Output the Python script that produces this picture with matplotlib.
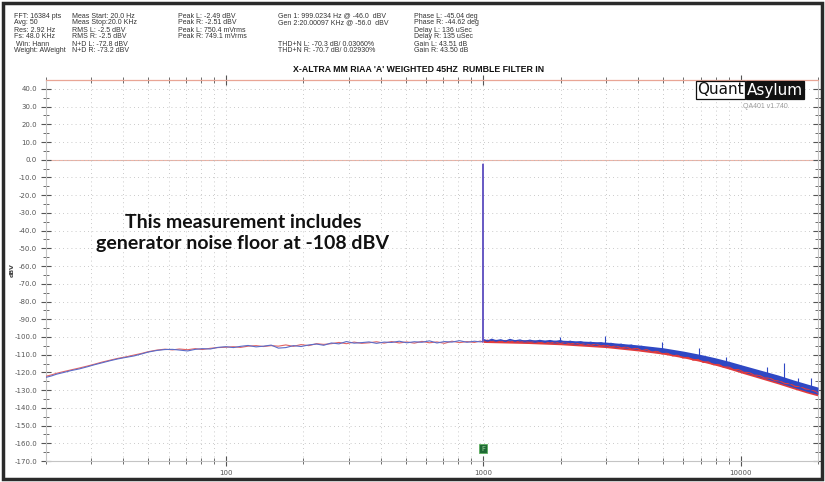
import matplotlib
matplotlib.use("Agg")
import matplotlib.pyplot as plt
from matplotlib.patches import Rectangle

# ---------------- data ----------------
f_lo = [20, 21, 22, 23.5, 25, 27, 29, 31, 33, 35.5, 38, 41, 44, 47, 50, 54, 58, 62, 66, 71,
        76, 81, 87, 93, 100, 107, 114, 122, 131, 140, 150, 160, 171, 183, 196, 210, 225, 240,
        257, 275, 294, 315, 337, 360, 385, 412, 441, 472, 505, 540, 578, 618, 661, 707, 756,
        809, 865, 925, 975, 995]
L_lo = [-122.8, -122.0, -121.0, -120.0, -119.0, -118.0, -116.8, -115.6, -114.6, -113.4,
        -112.4, -111.5, -110.7, -109.6, -108.5, -107.6, -107.1, -107.0, -107.4, -107.9,
        -107.0, -106.6, -106.8, -105.9, -105.5, -106.0, -105.3, -104.8, -105.6, -105.2,
        -104.6, -106.3, -106.0, -104.9, -105.4, -104.5, -104.0, -104.7, -103.4, -103.9,
        -102.6, -103.5, -103.2, -102.8, -103.6, -102.9, -103.1, -102.4, -103.3, -102.7,
        -103.0, -102.2, -103.4, -102.6, -102.9, -102.1, -103.0, -102.4, -102.8, -102.5]
R_lo = [-122.2, -121.4, -120.5, -119.5, -118.6, -117.5, -116.4, -115.3, -114.2, -113.1,
        -112.1, -111.2, -110.2, -109.3, -108.3, -107.4, -106.9, -107.3, -106.8, -107.2,
        -106.6, -107.1, -106.4, -106.0, -105.8, -105.5, -105.9, -105.2, -104.9, -105.4,
        -104.9, -105.2, -104.5, -105.3, -104.3, -104.9, -103.8, -104.2, -103.8, -103.1,
        -103.8, -102.9, -103.6, -103.3, -102.7, -103.5, -102.6, -103.4, -102.8, -103.5,
        -102.5, -103.3, -102.8, -103.6, -102.4, -103.2, -102.6, -103.1, -102.3, -102.9]

tone_f = [997, 999, 1001]
tone_L = [-102.5, -2.49, -101.7]
tone_R = [-102.9, -2.51, -101.9]

f_hi = [1005, 1040, 1080, 1120, 1170, 1220, 1270, 1330, 1390, 1450, 1520, 1590, 1660, 1740,
        1820, 1900, 1990, 2080, 2180, 2280, 2390, 2500, 2620, 2740, 2870, 3000, 3140, 3290,
        3440, 3600, 3770, 3950, 4130, 4330, 4530, 4740, 4960, 5190, 5440, 5690, 5960, 6240,
        6530, 6840, 7160, 7490, 7840, 8210, 8600, 9000, 9420, 9860, 10300, 10800, 11300,
        11800, 12400, 13000, 13600, 14200, 14900, 15600, 16300, 17100, 17900, 18700, 19600,
        20000]
L_hi = [-101.5, -102.3, -101.3, -102.1, -101.6, -102.4, -101.4, -102.2, -101.7, -102.5,
        -101.8, -102.6, -101.9, -102.7, -102.0, -102.9, -102.1, -103.0, -102.4, -103.3,
        -102.7, -103.6, -103.0, -103.9, -103.3, -104.3, -103.6, -104.7, -104.1, -105.2,
        -104.6, -105.9, -105.3, -106.6, -106.2, -107.5, -107.0, -108.5, -108.1, -109.6,
        -109.2, -110.8, -110.4, -112.0, -111.7, -113.3, -113.1, -114.8, -114.6, -116.3,
        -116.2, -117.9, -117.9, -119.6, -119.5, -121.1, -121.2, -122.8, -122.9, -124.5,
        -124.6, -126.2, -126.3, -127.9, -128.0, -129.5, -129.6, -130.8]
R_hi = [-102.4, -101.8, -102.7, -101.9, -102.8, -102.0, -102.9, -102.1, -103.0, -102.3,
        -103.1, -102.4, -103.3, -102.6, -103.5, -102.8, -103.7, -103.0, -104.0, -103.3,
        -104.3, -103.7, -104.7, -104.0, -105.1, -104.5, -105.6, -105.0, -106.2, -105.6,
        -106.9, -106.3, -107.7, -107.1, -108.6, -108.0, -109.6, -109.1, -110.7, -110.2,
        -111.9, -111.4, -113.1, -112.7, -114.4, -114.0, -115.7, -115.4, -117.1, -116.9,
        -118.5, -118.4, -120.0, -120.0, -121.6, -121.6, -123.2, -123.2, -124.7, -124.8,
        -126.3, -126.4, -127.9, -128.0, -129.4, -129.6, -130.8, -131.6]

band_f = [1000, 1500, 2000, 3000, 4000, 5000, 6000, 7000, 8000, 9000, 10000, 12000, 14000,
          16000, 18000, 20000]
band_hi = [-101.4, -101.6, -101.8, -102.9, -104.5, -106.1, -108.0, -109.9, -111.8, -113.7,
           -115.6, -118.8, -121.5, -124.2, -126.4, -128.3]
band_lo = [-102.2, -102.8, -103.5, -105.1, -107.0, -108.8, -110.9, -113.0, -115.1, -117.2,
           -119.3, -122.7, -125.6, -128.3, -130.6, -132.4]

spur_f = [1983, 2970, 4970, 6900, 8770, 12700, 14750, 16700, 18850]
spur_base = [-102.7, -104.0, -107.5, -111.3, -115.0, -121.7, -124.6, -127.2, -129.5]
spur_top = [-100.3, -99.5, -103.0, -106.5, -111.5, -117.0, -114.9, -123.0, -123.3]

y_ticks = list(range(-170, 41, 10))
x_ticks = [100, 1000, 10000]

header_cols = [
    (14, ["FFT: 16384 pts", "Avg: 50", "Res: 2.92 Hz", "Fs: 48.0 KHz", " Win: Hann", "Weight: AWeight"]),
    (72, ["Meas Start: 20.0 Hz", "Meas Stop:20.0 KHz", "RMS L: -2.5 dBV", "RMS R: -2.5 dBV",
          "N+D L: -72.8 dBV", "N+D R: -73.2 dBV"]),
    (178, ["Peak L: -2.49 dBV", "Peak R: -2.51 dBV", "Peak L: 750.4 mVrms", "Peak R: 749.1 mVrms", "", ""]),
    (278, ["Gen 1: 999.0234 Hz @ -46.0  dBV", "Gen 2:20.00097 KHz @ -56.0  dBV", "", "",
           "THD+N L: -70.3 dB/ 0.03060%", "THD+N R: -70.7 dB/ 0.02930%"]),
    (414, ["Phase L: -45.04 deg", "Phase R: -44.62 deg", "Delay L: 136 uSec", "Delay R: 135 uSec",
           "Gain L: 43.51 dB", "Gain R: 43.50 dB"]),
]
title = "X-ALTRA MM RIAA 'A' WEIGHTED 45HZ  RUMBLE FILTER IN"
note = "This measurement includes\ngenerator noise floor at -108 dBV"

# ---------------- figure ----------------
W, H = 825, 482
fig = plt.figure(figsize=(W / 100, H / 100), dpi=100)
fig.patch.set_facecolor("white")
ax = fig.add_axes([46 / W, 1 - 461 / H, (818 - 46) / W, (461 - 80) / H])
ax.set_xscale("log")
ax.set_xlim(20, 20000)
ax.set_ylim(-170, 45)

blue = "#2f48c4"
red = "#e33b3b"

ax.axhline(0, color="#eab3a6", lw=0.8, zorder=1)

ax.fill_between(band_f, [v - 0.9 for v in band_lo], [v - 0.5 for v in band_hi],
                color=red, lw=0, zorder=2)
ax.fill_between(band_f, band_lo, band_hi, color=blue, lw=0, zorder=3)

ax.plot(f_lo, R_lo, color="#e26464", lw=0.8, zorder=4)
ax.plot(f_lo, L_lo, color="#5a6cc9", lw=0.8, zorder=5)
ax.plot(f_hi, R_hi, color=red, lw=0.8, zorder=4)
ax.plot(f_hi, L_hi, color=blue, lw=0.9, zorder=5)
ax.plot(tone_f, tone_R, color="#b26aa8", lw=1.0, zorder=4)
ax.plot(tone_f, tone_L, color="#6a5cc4", lw=1.0, zorder=5)
ax.vlines(spur_f, spur_base, spur_top, color=blue, lw=0.8, zorder=6)

# grid
grid_kw = dict(color="#b8b8b8", lw=0.6, ls=(0, (1, 4)))
ax.grid(which="major", axis="y", **grid_kw)
ax.grid(which="both", axis="x", **grid_kw)

ax.set_yticks(y_ticks)
ax.set_yticklabels([f"{v:.1f}" for v in y_ticks])
ax.set_yticks(list(range(-165, 45, 10)), minor=True)
ax.set_xticks(x_ticks)
ax.set_xticklabels([str(v) for v in x_ticks])
ax.tick_params(axis="both", which="both", direction="inout", colors="#555555",
               labelsize=5, top=True, right=True, labeltop=False, labelright=False)
ax.tick_params(axis="both", which="major", length=7, width=0.8, pad=3)
ax.tick_params(axis="both", which="minor", length=4, width=0.6)
ax.tick_params(axis="x", which="minor", labelbottom=False)
for t in ax.get_yticklabels() + ax.get_xticklabels():
    t.set_color("#555555")
for s in ["left", "right", "bottom"]:
    ax.spines[s].set_color("#c4c4c4")
    ax.spines[s].set_linewidth(0.8)
ax.spines["top"].set_color("#e9a595")
ax.spines["top"].set_linewidth(0.9)

fig.text(12 / W, 1 - 270 / H, "dBV", rotation=90, fontsize=4.5, color="#444444",
         ha="center", va="center", fontweight="bold")

# header
for x, lines in header_cols:
    for i, s in enumerate(lines):
        if s:
            fig.text(x / W, 1 - (16 + 7 * i) / H, s, fontsize=5, family="Liberation Sans",
                     color="#333333", ha="left", va="center")

fig.text(419 / W, 1 - 70 / H, title, fontsize=6.3, family="Liberation Sans",
         fontweight="bold", color="#111111", ha="center", va="center")

fig.text(243 / W, 1 - 233 / H, note, fontsize=14, family="Lato", fontweight="bold",
         color="#111111", ha="center", va="center", linespacing=1.25)

# logo
fig.text(744 / W, 1 - 90 / H, "Quant", fontsize=11, family="DejaVu Sans",
         color="#111111", ha="right", va="center",
         bbox=dict(boxstyle="square,pad=0.08", fc="white", ec="#111111", lw=0.9))
fig.text(747 / W, 1 - 90 / H, "Asylum", fontsize=11, family="DejaVu Sans",
         color="white", ha="left", va="center",
         bbox=dict(boxstyle="square,pad=0.08", fc="#111111", ec="#111111", lw=0.9))
fig.text(765 / W, 1 - 106 / H, "QA401 v1.740", fontsize=5, family="Liberation Sans",
         color="#9a9a9a", ha="center", va="center")

# generator marker
ax.text(1000, -163, "F", fontsize=5, color="#9fd09f", ha="center", va="center",
        bbox=dict(boxstyle="square,pad=0.25", fc="#1f6a35", ec="#5db060", lw=0.6), zorder=8)

# outer frame
fig.add_artist(Rectangle((3 / W, 3 / H), (W - 6) / W, (H - 6) / H, transform=fig.transFigure,
                         fill=False, ec="#2a2a2a", lw=2.5))

fig.savefig("out.png", dpi=100)
